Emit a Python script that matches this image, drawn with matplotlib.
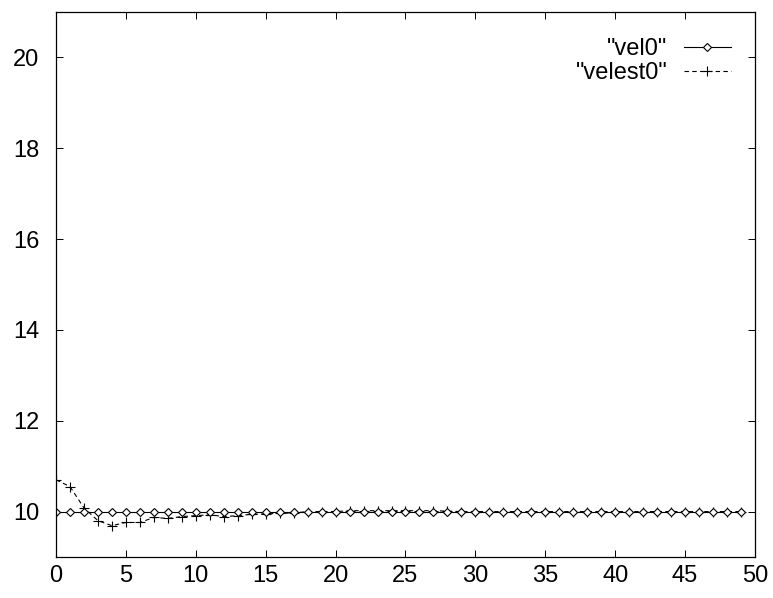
import matplotlib
matplotlib.use("Agg")
import matplotlib.pyplot as plt

# data (one value per step 0..49)
steps = list(range(50))
vel0 = [10.0, 10.0, 10.0, 10.0, 10.0, 10.0, 10.0, 10.0, 10.0, 10.0,
        10.0, 10.0, 10.0, 10.0, 10.0, 10.0, 10.0, 10.0, 10.0, 10.0,
        10.0, 10.0, 10.0, 10.0, 10.0, 10.0, 10.0, 10.0, 10.0, 10.0,
        10.0, 10.0, 10.0, 10.0, 10.0, 10.0, 10.0, 10.0, 10.0, 10.0,
        10.0, 10.0, 10.0, 10.0, 10.0, 10.0, 10.0, 10.0, 10.0, 10.0]
velest0 = [10.70, 10.55, 10.08, 9.80, 9.69, 9.76, 9.76, 9.87, 9.85, 9.89,
           9.91, 9.93, 9.89, 9.91, 9.94, 9.95, 9.96, 9.97, 10.00, 10.00,
           10.00, 10.02, 10.02, 10.02, 10.02, 10.02, 10.02, 10.02, 10.01, 10.00,
           10.00, 10.00, 10.00, 10.00, 10.00, 10.00, 10.00, 10.00, 10.00, 10.00,
           10.00, 10.00, 10.00, 10.00, 10.00, 10.00, 10.00, 10.00, 10.00, 10.00]
labels = ['"vel0"', '"velest0"']
xticks = [0, 5, 10, 15, 20, 25, 30, 35, 40, 45, 50]
yticks = [10, 12, 14, 16, 18, 20]

plt.rcParams['font.family'] = ['Liberation Sans', 'DejaVu Sans']

fig = plt.figure(figsize=(7.73, 5.98), dpi=100)
ax = fig.add_axes([56 / 773, 1 - 557 / 598, (755 - 56) / 773, (557 - 12) / 598])

ax.plot(steps, velest0, color='black', lw=0.8, linestyle=(0, (4, 3)),
        marker='+', markersize=7, markeredgewidth=0.8, label=labels[1])
ax.plot(steps, vel0, color='black', lw=0.8, marker='D', markersize=4.5,
        markerfacecolor='white', markeredgecolor='black', markeredgewidth=0.8,
        label=labels[0])

ax.set_xlim(0, 50)
ax.set_ylim(9, 21)
ax.set_xticks(xticks)
ax.set_yticks(yticks)
ax.tick_params(direction='in', length=5, width=0.7, top=True, right=True,
               labelsize=17)
ax.tick_params(axis='x', pad=6)
ax.tick_params(axis='y', pad=12)
for sp in ax.spines.values():
    sp.set_linewidth(0.9)

h, l = ax.get_legend_handles_labels()
ax.legend(h[::-1], l[::-1], loc='upper right',
          bbox_to_anchor=(731 / 773, 1 - 38 / 598),
          bbox_transform=fig.transFigure, frameon=False, markerfirst=False,
          numpoints=1, handlelength=2.0, handletextpad=0.7, labelspacing=0.1,
          borderpad=0, borderaxespad=0, fontsize=17)

fig.savefig('out.png', dpi=100)
